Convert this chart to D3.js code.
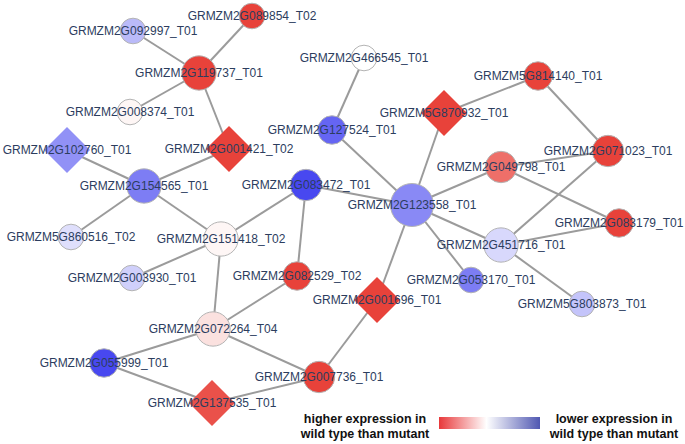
<!DOCTYPE html>
<html>
<head>
<meta charset="utf-8">
<script src="https://cdn.jsdelivr.net/npm/d3@7"></script>
<style>
  html, body { margin: 0; padding: 0; background: #fff; }
  svg { display: block; }
</style>
</head>
<body>
<div id="chart"></div>
<script>
const WIDTH = 685;
const HEIGHT = 444;

// node table (layout coordinates)
const nodeNames = [
  'GRMZM2G089854_T02', 'GRMZM2G092997_T01', 'GRMZM2G119737_T01', 'GRMZM2G008374_T01',
  'GRMZM2G102760_T01', 'GRMZM2G001421_T02', 'GRMZM2G127524_T01', 'GRMZM2G466545_T01',
  'GRMZM5G814140_T01', 'GRMZM5G870932_T01', 'GRMZM2G071023_T01', 'GRMZM2G154565_T01',
  'GRMZM2G083472_T01', 'GRMZM5G860516_T02', 'GRMZM2G151418_T02', 'GRMZM2G003930_T01',
  'GRMZM2G082529_T02', 'GRMZM2G049798_T01', 'GRMZM2G123558_T01', 'GRMZM2G083179_T01',
  'GRMZM2G451716_T01', 'GRMZM2G053170_T01', 'GRMZM2G001696_T01', 'GRMZM5G803873_T01',
  'GRMZM2G072264_T04', 'GRMZM2G055999_T01', 'GRMZM2G007736_T01', 'GRMZM2G137535_T01',
];
const nodeX = [252, 133, 199, 130, 67, 229, 332, 364, 538, 444, 608, 144, 306, 71,
  221, 132, 297, 501, 412, 619, 501, 471, 377, 582, 213, 104, 319, 212];
const nodeY = [16, 31, 73, 112, 150, 149, 130, 58, 76, 113, 151, 186, 185, 237,
  239, 278, 276, 167, 205, 223, 245, 280, 300, 304, 329, 363, 377, 403];
// 'd' = diamond, 'c' = circle
const nodeShape = ['c', 'c', 'c', 'c', 'd', 'd', 'c', 'c', 'c', 'd', 'c', 'c', 'c', 'c',
  'c', 'c', 'c', 'c', 'c', 'c', 'c', 'c', 'd', 'c', 'c', 'c', 'c', 'd'];
// >0 higher in wild type, <0 lower in wild type
const nodeExpr = [1, -0.35, 1, 0.05, -0.56, 1, -0.78, 0, 1, 1, 1, -0.66, -0.93, -0.16,
  0.05, -0.24, 1, 0.76, -0.6, 1, -0.2, -0.66, 1, -0.3, 0.16, -0.93, 1, 0.92];

const edges = [
  ['GRMZM2G089854_T02', 'GRMZM2G119737_T01'],
  ['GRMZM2G092997_T01', 'GRMZM2G119737_T01'],
  ['GRMZM2G119737_T01', 'GRMZM2G008374_T01'],
  ['GRMZM2G119737_T01', 'GRMZM2G001421_T02'],
  ['GRMZM2G001421_T02', 'GRMZM2G154565_T01'],
  ['GRMZM2G102760_T01', 'GRMZM2G154565_T01'],
  ['GRMZM2G154565_T01', 'GRMZM5G860516_T02'],
  ['GRMZM2G154565_T01', 'GRMZM2G151418_T02'],
  ['GRMZM2G151418_T02', 'GRMZM2G083472_T01'],
  ['GRMZM2G151418_T02', 'GRMZM2G003930_T01'],
  ['GRMZM2G151418_T02', 'GRMZM2G072264_T04'],
  ['GRMZM2G083472_T01', 'GRMZM2G082529_T02'],
  ['GRMZM2G083472_T01', 'GRMZM2G123558_T01'],
  ['GRMZM2G082529_T02', 'GRMZM2G072264_T04'],
  ['GRMZM2G127524_T01', 'GRMZM2G466545_T01'],
  ['GRMZM2G127524_T01', 'GRMZM2G123558_T01'],
  ['GRMZM2G123558_T01', 'GRMZM5G870932_T01'],
  ['GRMZM5G870932_T01', 'GRMZM5G814140_T01'],
  ['GRMZM5G814140_T01', 'GRMZM2G071023_T01'],
  ['GRMZM2G123558_T01', 'GRMZM2G049798_T01'],
  ['GRMZM2G049798_T01', 'GRMZM2G071023_T01'],
  ['GRMZM2G049798_T01', 'GRMZM2G083179_T01'],
  ['GRMZM2G071023_T01', 'GRMZM2G451716_T01'],
  ['GRMZM2G123558_T01', 'GRMZM2G451716_T01'],
  ['GRMZM2G451716_T01', 'GRMZM2G083179_T01'],
  ['GRMZM2G451716_T01', 'GRMZM5G803873_T01'],
  ['GRMZM2G123558_T01', 'GRMZM2G053170_T01'],
  ['GRMZM2G123558_T01', 'GRMZM2G001696_T01'],
  ['GRMZM2G001696_T01', 'GRMZM2G007736_T01'],
  ['GRMZM2G072264_T04', 'GRMZM2G007736_T01'],
  ['GRMZM2G072264_T04', 'GRMZM2G055999_T01'],
  ['GRMZM2G055999_T01', 'GRMZM2G137535_T01'],
  ['GRMZM2G137535_T01', 'GRMZM2G007736_T01'],
];

const legendLabels = [
  ['higher expression in', 'wild type than mutant'],
  ['lower expression in', 'wild type than mutant'],
];

const nodes = nodeNames.map((name, i) => ({
  id: name, x: nodeX[i], y: nodeY[i], shape: nodeShape[i], expr: nodeExpr[i], degree: 0,
}));
const byId = new Map(nodes.map((d) => [d.id, d]));
const links = edges.map(([s, t]) => ({ source: byId.get(s), target: byId.get(t) }));
links.forEach((l) => { l.source.degree++; l.target.degree++; });

const x = d3.scaleLinear().domain([0, 685]).range([0, WIDTH]);
const y = d3.scaleLinear().domain([0, 444]).range([0, HEIGHT]);
const radius = d3.scaleLinear().domain([1, 7]).range([12.8, 21.5]);
const color = d3.scaleLinear()
  .domain([-1, 0, 1])
  .range(['#3a3aef', '#ffffff', '#e8423a'])
  .interpolate(d3.interpolateRgb);

const svg = d3.select('#chart').append('svg')
  .attr('width', WIDTH)
  .attr('height', HEIGHT);

svg.append('g')
  .selectAll('line')
  .data(links)
  .join('line')
  .attr('x1', (d) => x(d.source.x))
  .attr('y1', (d) => y(d.source.y))
  .attr('x2', (d) => x(d.target.x))
  .attr('y2', (d) => y(d.target.y))
  .attr('stroke', '#9b9b9b')
  .attr('stroke-width', 2);

const diamond = d3.symbol().type(d3.symbolSquare).size(1060);

const nodeG = svg.append('g')
  .selectAll('g')
  .data(nodes)
  .join('g')
  .attr('transform', (d) => `translate(${x(d.x)},${y(d.y)})`);

nodeG.filter((d) => d.shape === 'c')
  .append('circle')
  .attr('r', (d) => radius(d.degree))
  .attr('fill', (d) => color(d.expr))
  .attr('stroke', '#b4b4b4')
  .attr('stroke-width', 1);

nodeG.filter((d) => d.shape === 'd')
  .append('path')
  .attr('d', diamond)
  .attr('transform', 'rotate(45)')
  .attr('fill', (d) => color(d.expr));

// labels sit on top of every node
svg.append('g')
  .selectAll('text')
  .data(nodes)
  .join('text')
  .attr('x', (d) => x(d.x))
  .attr('y', (d) => y(d.y))
  .attr('dy', '0.36em')
  .attr('text-anchor', 'middle')
  .attr('font-family', 'Liberation Sans, Arial, sans-serif')
  .attr('font-size', '12px')
  .attr('fill', '#2c3d5e')
  .text((d) => d.id);

// legend
const defs = svg.append('defs');
const grad = defs.append('linearGradient').attr('id', 'legend-grad');
[[0, '#e8383a'], [0.47, '#ffffff'], [1, '#5058b2']].forEach(([o, c]) => {
  grad.append('stop').attr('offset', o).attr('stop-color', c);
});

svg.append('rect')
  .attr('x', 439)
  .attr('y', 417)
  .attr('width', 101)
  .attr('height', 12)
  .attr('fill', 'url(#legend-grad)');

const legendX = [365, 614];
legendLabels.forEach((lines, i) => {
  const t = svg.append('text')
    .attr('x', legendX[i])
    .attr('y', 423)
    .attr('text-anchor', 'middle')
    .attr('font-family', 'Liberation Sans, Arial, sans-serif')
    .attr('font-size', '12.5px')
    .attr('font-weight', 'bold')
    .attr('fill', '#111');
  lines.forEach((line, j) => {
    t.append('tspan')
      .attr('x', legendX[i])
      .attr('dy', j === 0 ? 0 : 15)
      .text(line);
  });
});
</script>
</body>
</html>
